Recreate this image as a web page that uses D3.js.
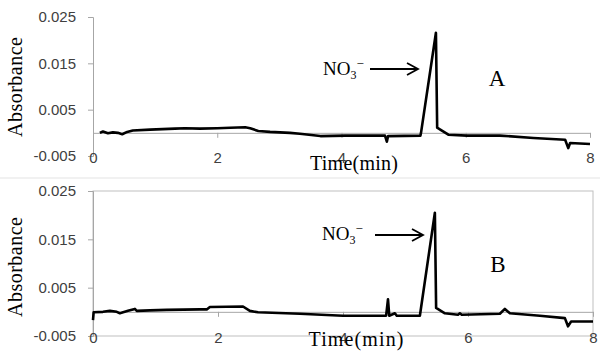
<!DOCTYPE html>
<html>
<head>
<meta charset="utf-8">
<script src="https://cdn.jsdelivr.net/npm/d3@7"></script>
<style>
  body { margin: 0; background: #fff; }
  svg { display: block; }
  .tick text { font-family: "Liberation Sans", Arial, sans-serif; fill: #404040; }
  .ttl { font-family: "Liberation Serif", "Times New Roman", serif; fill: #000; }
</style>
</head>
<body>
<div id="chart"></div>
<script>
// time (min) and absorbance
const timeA = [0.11, 0.16, 0.24, 0.32, 0.40, 0.47, 0.55, 0.64, 0.92, 1.32, 1.48, 1.72, 2.00, 2.21, 2.45, 2.53, 2.66, 2.85, 3.17, 3.33, 3.66, 4.06, 4.70, 4.73, 4.75, 5.27, 5.28, 5.52, 5.54, 5.59, 5.72, 6.02, 6.55, 7.09, 7.60, 7.65, 7.68, 8.00];
const absA  = [0.0000, 0.0003, -0.0001, 0.0001, 0.0000, -0.0003, 0.0002, 0.0005, 0.0007, 0.0009, 0.0010, 0.0009, 0.0010, 0.0011, 0.0012, 0.0010, 0.0004, 0.0002, 0.0000, -0.0002, -0.0007, -0.0006, -0.0006, -0.0019, -0.0007, -0.0006, 0.0000, 0.0216, 0.0011, 0.0007, -0.0004, -0.0006, -0.0006, -0.0011, -0.0015, -0.0033, -0.0022, -0.0024];

const timeB = [0.00, 0.01, 0.16, 0.27, 0.38, 0.43, 0.56, 0.67, 0.70, 0.91, 1.18, 1.71, 1.82, 1.87, 2.40, 2.51, 2.64, 3.31, 4.00, 4.69, 4.72, 4.74, 4.83, 4.86, 5.23, 5.47, 5.49, 5.63, 5.84, 5.87, 5.90, 6.51, 6.59, 6.67, 7.15, 7.55, 7.60, 7.65, 8.00];
const absB  = [-0.0017, -0.0001, 0.0000, 0.0002, 0.0000, -0.0003, 0.0002, 0.0006, 0.0002, 0.0003, 0.0004, 0.0005, 0.0005, 0.0010, 0.0011, 0.0002, -0.0001, -0.0004, -0.0008, -0.0008, 0.0026, -0.0008, -0.0003, -0.0008, -0.0008, 0.0205, 0.0008, -0.0003, -0.0006, -0.0003, -0.0006, -0.0004, 0.0006, -0.0003, -0.0008, -0.0013, -0.0030, -0.0020, -0.0020];

const xTicks = [0, 2, 4, 6, 8];
const yTicks = [-0.005, 0.005, 0.015, 0.025];
const panelLabels = ['A', 'B'];

const svg = d3.select('#chart').append('svg')
  .attr('width', 600)
  .attr('height', 360);

// thin separator between the two pasted charts
svg.append('line')
  .attr('x1', 0).attr('x2', 600)
  .attr('y1', 178).attr('y2', 178)
  .attr('stroke', '#e3e3e3');

const panels = [
  { t: timeA, v: absA, left: 93, right: 590, top: 17, bottom: 156, frame: false,
    label: panelLabels[0], labelPos: [497, 86], ion: [323, 75], arrow: [370, 418, 69], xTitle: [354, 170, 88], yTitle: [15, 87] },
  { t: timeB, v: absB, left: 93, right: 593, top: 191, bottom: 336, frame: true,
    label: panelLabels[1], labelPos: [498, 272], ion: [322, 240], arrow: [375, 423, 235], xTitle: [356, 346, 95], yTitle: [15, 267] }
];

panels.forEach(p => {
  const x = d3.scaleLinear().domain([0, 8]).range([p.left, p.right]);
  const y = d3.scaleLinear().domain([-0.005, 0.025]).range([p.bottom, p.top]);
  const g = svg.append('g');

  if (p.frame) {
    g.append('rect')
      .attr('x', p.left).attr('y', p.top)
      .attr('width', p.right - p.left).attr('height', p.bottom - p.top)
      .attr('fill', 'none').attr('stroke', '#bfbfbf');
  }

  // value axis
  const ya = g.append('g')
    .attr('transform', `translate(${p.left},0)`)
    .call(d3.axisLeft(y).tickValues(yTicks).tickSize(5).tickPadding(12)
      .tickFormat(d => d3.format('.3f')(d).replace('−', '-')));
  ya.select('.domain').attr('stroke', '#a6a6a6');
  ya.selectAll('.tick line').attr('stroke', '#a6a6a6');
  ya.selectAll('text').attr('font-size', 15);

  // time axis sits on zero, labels drop to the bottom of the plot
  const xa = g.append('g')
    .attr('transform', `translate(0,${y(0)})`)
    .call(d3.axisBottom(x).tickValues(xTicks).tickSize(5).tickSizeOuter(0));
  xa.select('.domain').attr('stroke', '#a6a6a6');
  xa.selectAll('.tick line').attr('stroke', '#a6a6a6');
  xa.selectAll('text')
    .attr('font-size', 15)
    .attr('dy', null)
    .attr('y', p.bottom - y(0) + 7);

  const line = d3.line()
    .x((d, i) => x(p.t[i]))
    .y(d => y(d));

  g.append('path')
    .datum(p.v)
    .attr('d', line)
    .attr('fill', 'none')
    .attr('stroke', '#000')
    .attr('stroke-width', 2.6)
    .attr('stroke-linejoin', 'round');

  // axis titles
  g.append('text')
    .attr('class', 'ttl')
    .attr('transform', `translate(${p.yTitle[0] + 7},${p.yTitle[1]}) rotate(-90)`)
    .attr('text-anchor', 'middle')
    .attr('font-size', 20)
    .attr('textLength', 100)
    .text('Absorbance');

  g.append('text')
    .attr('class', 'ttl')
    .attr('x', p.xTitle[0]).attr('y', p.xTitle[1])
    .attr('text-anchor', 'middle')
    .attr('font-size', 20)
    .attr('textLength', p.xTitle[2])
    .text('Time(min)');

  // peak annotation
  const ion = g.append('text')
    .attr('class', 'ttl')
    .attr('x', p.ion[0]).attr('y', p.ion[1])
    .attr('font-size', 19);
  ion.append('tspan').text('NO');
  ion.append('tspan').attr('font-size', 12).attr('dy', 4).text('3');
  ion.append('tspan').attr('font-size', 13).attr('dy', -11).text('−');

  const [ax1, ax2, ay] = p.arrow;
  g.append('path')
    .attr('d', `M${ax1},${ay}H${ax2}M${ax2 - 11},${ay - 6}L${ax2},${ay}L${ax2 - 11},${ay + 6}`)
    .attr('fill', 'none')
    .attr('stroke', '#000')
    .attr('stroke-width', 1.8);

  g.append('text')
    .attr('class', 'ttl')
    .attr('x', p.labelPos[0]).attr('y', p.labelPos[1])
    .attr('text-anchor', 'middle')
    .attr('font-size', 23)
    .text(p.label);
});
</script>
</body>
</html>
